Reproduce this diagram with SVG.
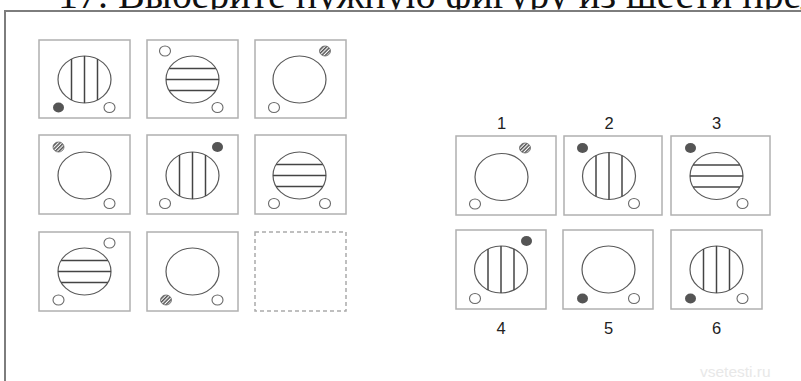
<svg xmlns="http://www.w3.org/2000/svg" xmlns:xlink="http://www.w3.org/1999/xlink" width="801" height="381" viewBox="0 0 801 381">
<style>
.box{fill:#fff;stroke:#b0b0b0;stroke-width:1.5}
.dash{fill:none;stroke:#aaa;stroke-width:1.5;stroke-dasharray:4 3}
.ell{fill:#fff;stroke:#5a5a5a;stroke-width:1.2}
.ln{stroke:#444;stroke-width:1.5}
.open{fill:#fff;stroke:#6a6a6a;stroke-width:1.1}
.fill{fill:#555}
.hat{fill:url(#hp);stroke:#666;stroke-width:0.8}
.lbl{font-family:"Liberation Sans",Arial,sans-serif;font-size:16.5px;fill:#222;text-anchor:middle}
.title{font-family:"Liberation Serif","Times New Roman",serif;font-size:40px;fill:#111}
.wm{font-family:"Liberation Sans",Arial,sans-serif;font-size:15.5px;fill:#e8e8e8}
</style>
<defs>
<pattern id="hp" patternUnits="userSpaceOnUse" width="2.6" height="2.6" patternTransform="rotate(45)">
<rect width="2.6" height="2.6" fill="#fff"/>
<rect width="1.5" height="2.6" fill="#555"/>
</pattern>
<clipPath id="tc"><rect x="0" y="0" width="801" height="9.5"/></clipPath>
<g id="plain"><ellipse class="ell" cx="0" cy="0" rx="26.5" ry="23.5"/></g>
<g id="vert"><ellipse class="ell" cx="0" cy="0" rx="26.5" ry="23.5"/>
<line class="ln" x1="-13" y1="-20.5" x2="-13" y2="20.5"/>
<line class="ln" x1="0" y1="-23.5" x2="0" y2="23.5"/>
<line class="ln" x1="13" y1="-20.5" x2="13" y2="20.5"/></g>
<g id="horz"><ellipse class="ell" cx="0" cy="0" rx="26.5" ry="23.5"/>
<line class="ln" x1="-23.3" y1="-11" x2="23.3" y2="-11"/>
<line class="ln" x1="-26.5" y1="0" x2="26.5" y2="0"/>
<line class="ln" x1="-23.3" y1="11" x2="23.3" y2="11"/></g>
<ellipse id="o" class="open" cx="0" cy="0" rx="5.5" ry="5"/>
<ellipse id="f" class="fill" cx="0" cy="0" rx="5.5" ry="5"/>
<ellipse id="h" class="hat" cx="0" cy="0" rx="5.5" ry="5"/>
</defs>
<rect width="801" height="381" fill="#fff"/>
<text class="title" x="58" y="8" clip-path="url(#tc)">17. Выберите нужную фигуру из шести предложенных</text>
<path d="M5,381 V11 H801" fill="none" stroke="#7d7d7d" stroke-width="2"/>

<g id="cell-1-1"><rect class="box" x="39" y="40" width="91" height="78"/>
<use href="#vert" x="84.5" y="79.5"/><use href="#f" x="58.5" y="107.5"/><use href="#o" x="109.5" y="107.5"/></g>
<g id="cell-1-2"><rect class="box" x="147" y="40" width="91" height="78"/>
<use href="#horz" x="192.5" y="79.5"/><use href="#o" x="165" y="51"/><use href="#o" x="217.5" y="107.5"/></g>
<g id="cell-1-3"><rect class="box" x="255" y="40" width="91" height="78"/>
<use href="#plain" x="299.5" y="79.5"/><use href="#h" x="325" y="51"/><use href="#o" x="274" y="107.5"/></g>

<g id="cell-2-1"><rect class="box" x="39" y="135" width="91" height="79"/>
<use href="#plain" x="84.5" y="175.5"/><use href="#h" x="58.5" y="147"/><use href="#o" x="109.5" y="203.5"/></g>
<g id="cell-2-2"><rect class="box" x="147" y="135" width="91" height="79"/>
<use href="#vert" x="192.5" y="175.5"/><use href="#f" x="217.5" y="147"/><use href="#o" x="165" y="203.5"/></g>
<g id="cell-2-3"><rect class="box" x="255" y="135" width="91" height="79"/>
<use href="#horz" x="299.5" y="175.5"/><use href="#o" x="274" y="203.5"/><use href="#o" x="325" y="203.5"/></g>

<g id="cell-3-1"><rect class="box" x="39" y="232" width="91" height="79"/>
<use href="#horz" x="84.5" y="271.5"/><use href="#o" x="109.5" y="243"/><use href="#o" x="58.5" y="300"/></g>
<g id="cell-3-2"><rect class="box" x="147" y="232" width="91" height="79"/>
<use href="#plain" x="192.5" y="271.5"/><use href="#h" x="166" y="300"/><use href="#o" x="217.5" y="300"/></g>
<g id="cell-3-3"><rect class="dash" x="255" y="232" width="91" height="79"/></g>

<g id="opt-1"><text class="lbl" x="501.5" y="129">1</text><rect class="box" x="456" y="136" width="100" height="79"/>
<use href="#plain" x="501.5" y="177"/><use href="#h" x="525" y="148"/><use href="#o" x="475" y="204"/></g>
<g id="opt-2"><text class="lbl" x="609" y="129">2</text><rect class="box" x="564" y="136" width="98" height="79"/>
<use href="#vert" x="609" y="176"/><use href="#f" x="582.5" y="148"/><use href="#o" x="634" y="203.5"/></g>
<g id="opt-3"><text class="lbl" x="716.5" y="129">3</text><rect class="box" x="671" y="136" width="99" height="79"/>
<use href="#horz" x="716.5" y="176"/><use href="#f" x="690.5" y="148"/><use href="#o" x="742.5" y="203.5"/></g>

<g id="opt-4"><rect class="box" x="456" y="230" width="90" height="79"/>
<use href="#vert" x="501" y="269.5"/><use href="#f" x="526.5" y="241"/><use href="#o" x="475" y="298.5"/><text class="lbl" x="501" y="334">4</text></g>
<g id="opt-5"><rect class="box" x="563" y="230" width="90" height="79"/>
<use href="#plain" x="608.5" y="269.5"/><use href="#f" x="582.5" y="298.5"/><use href="#o" x="634" y="298.5"/><text class="lbl" x="608.5" y="334">5</text></g>
<g id="opt-6"><rect class="box" x="671" y="230" width="91" height="79"/>
<use href="#vert" x="716.5" y="269.5"/><use href="#f" x="690.5" y="298.5"/><use href="#o" x="742.5" y="298.5"/><text class="lbl" x="716.5" y="334">6</text></g>

<text class="wm" x="700" y="377">vsetesti.ru</text>
</svg>
